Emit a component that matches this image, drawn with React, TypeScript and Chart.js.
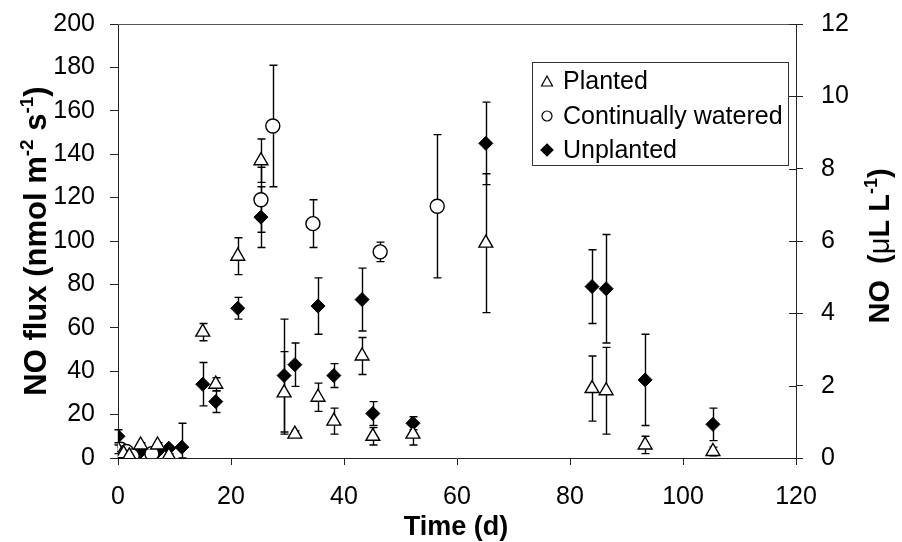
import React, { useEffect, useRef } from "react";
import { Chart, registerables } from "chart.js";

Chart.register(...registerables);

// ---------- data ----------
const plantedDays = [0, 0.5, 1, 2, 4, 7, 9, 15, 17.3, 21.2, 25.3, 29.4, 31.3, 35.4, 38.2, 43.2, 45.1, 52.2, 65.1, 83.9, 86.4, 93.3, 105.3];
const plantedFlux = [4, 1, 2, 1, 6, 6, 1, 58, 34, 93, 137, 30, 11, 28, 17, 47, 10, 11, 99, 32, 31, 6, 3];
const plantedErr = [2, 1, 1, 1, 1, 1, 1, 4, 3, 8.5, 10, 19, 1.5, 6.5, 6, 8.5, 4, 5, 32, 15, 20, 4, 2];

const wateredDays = [0.5, 1.5, 2.5, 6, 25.3, 27.4, 34.5, 46.4, 56.5];
const wateredFlux = [4, 3, 1, 2, 119, 153, 108, 95, 116];
const wateredErr = [1, 1, 1, 1, 15, 28, 11, 4.5, 33];

const unplantedDays = [0, 0.5, 1, 2, 4, 7, 9, 11.3, 15, 17.3, 21.2, 25.3, 29.4, 31.3, 35.4, 38.2, 43.2, 45.1, 52.2, 65.1, 83.9, 86.4, 93.3, 105.3];
const unplantedFlux = [10, 2, 3, 1, 3, 3, 4.5, 5, 34, 26, 69, 111, 38, 43, 70, 38, 73, 20.5, 16, 145, 79, 78, 36, 15.5];
const unplantedErr = [3, 1, 1, 1, 1, 1, 1, 11, 10, 5, 5, 14, 26, 10, 13, 5.5, 14.5, 5.5, 3, 19, 17, 25, 21, 7.5];

const xTicksMax = 120;
const leftMax = 200;
const rightMax = 12;

const seriesNames = ["Planted", "Continually watered", "Unplanted"];

const FONT = '"Liberation Sans", Arial, Helvetica, sans-serif';

function pts(days: number[], flux: number[], err: number[]) {
  return days.map((d, i) => ({ x: d, y: flux[i], e: err[i] }));
}

// ---------- plugins ----------
const errorBarsPlugin = {
  id: "errorBars",
  beforeDatasetsDraw(chart: any) {
    const { ctx } = chart;
    const x = chart.scales.x;
    const y = chart.scales.y;
    ctx.save();
    ctx.strokeStyle = "#000";
    ctx.lineWidth = 1.4;
    chart.data.datasets.forEach((ds: any) => {
      ds.data.forEach((p: any) => {
        if (!p.e) return;
        const px = Math.round(x.getPixelForValue(p.x)) + 0.5;
        const top = y.getPixelForValue(p.y + p.e);
        const bot = y.getPixelForValue(Math.max(0, p.y - p.e));
        ctx.beginPath();
        ctx.moveTo(px, top);
        ctx.lineTo(px, bot);
        ctx.moveTo(px - 4, top);
        ctx.lineTo(px + 4, top);
        ctx.moveTo(px - 4, bot);
        ctx.lineTo(px + 4, bot);
        ctx.stroke();
      });
    });
    ctx.restore();
  },
};

function drawRich(ctx: CanvasRenderingContext2D, parts: { t: string; sup?: boolean; normal?: boolean }[], size: number) {
  const fontFor = (p: any) => `${p.normal ? "normal" : "bold"} ${p.sup ? Math.round(size * 0.62) : size}px ${FONT}`;
  let total = 0;
  const widths = parts.map((p) => {
    ctx.font = fontFor(p);
    const w = ctx.measureText(p.t).width;
    total += w;
    return w;
  });
  let cx = -total / 2;
  ctx.textAlign = "left";
  ctx.textBaseline = "alphabetic";
  parts.forEach((p, i) => {
    ctx.font = fontFor(p);
    ctx.fillText(p.t, cx, p.sup ? -size * 0.42 : 0);
    cx += widths[i];
  });
}

const decorPlugin = {
  id: "decor",
  afterDraw(chart: any) {
    const { ctx, chartArea } = chart;
    ctx.save();
    // top frame line
    ctx.strokeStyle = "#555";
    ctx.lineWidth = 1;
    ctx.beginPath();
    ctx.moveTo(chartArea.left, chartArea.top + 0.5);
    ctx.lineTo(chartArea.right, chartArea.top + 0.5);
    ctx.stroke();
    // inner part of right axis ticks
    const y1 = chart.scales.y1;
    ctx.strokeStyle = "#222";
    y1.ticks.forEach((t: any) => {
      const py = Math.round(y1.getPixelForValue(t.value)) + 0.5;
      ctx.beginPath();
      ctx.moveTo(chartArea.right - 7, py);
      ctx.lineTo(chartArea.right, py);
      ctx.stroke();
    });

    ctx.fillStyle = "#000";
    // x title
    ctx.save();
    ctx.translate(456, 535);
    drawRich(ctx, [{ t: "Time (d)" }], 27);
    ctx.restore();
    // left title
    ctx.save();
    ctx.translate(46, 241);
    ctx.rotate(-Math.PI / 2);
    drawRich(ctx, [{ t: "NO flux (nmol m" }, { t: "-2", sup: true }, { t: " s" }, { t: "-1", sup: true }, { t: ")" }], 31);
    ctx.restore();
    // right title
    ctx.save();
    ctx.translate(889, 246);
    ctx.rotate(-Math.PI / 2);
    drawRich(ctx, [{ t: "NO  (" }, { t: "\u03BC", normal: true }, { t: "L L" }, { t: "-1", sup: true }, { t: ")" }], 29);
    ctx.restore();

    // legend
    const lx = 532, ly = 62, lw = 256, lh = 103;
    ctx.fillStyle = "#fff";
    ctx.fillRect(lx, ly, lw, lh);
    ctx.strokeStyle = "#333";
    ctx.lineWidth = 1;
    ctx.strokeRect(lx + 0.5, ly + 0.5, lw, lh);
    const rows = [82, 116, 150];
    const baselines = [89, 124, 158];
    ctx.font = `25px ${FONT}`;
    ctx.textAlign = "left";
    ctx.textBaseline = "alphabetic";
    seriesNames.forEach((name, i) => {
      const mx = 547, my = rows[i];
      ctx.lineWidth = 1.2;
      ctx.strokeStyle = "#000";
      ctx.fillStyle = i === 2 ? "#000" : "#fff";
      ctx.beginPath();
      if (i === 0) {
        ctx.moveTo(mx, my - 6);
        ctx.lineTo(mx + 5.5, my + 4);
        ctx.lineTo(mx - 5.5, my + 4);
        ctx.closePath();
      } else if (i === 1) {
        ctx.arc(mx, my, 5, 0, Math.PI * 2);
      } else {
        ctx.moveTo(mx, my - 6);
        ctx.lineTo(mx + 6, my);
        ctx.lineTo(mx, my + 6);
        ctx.lineTo(mx - 6, my);
        ctx.closePath();
      }
      ctx.fill();
      ctx.stroke();
      ctx.fillStyle = "#000";
      ctx.fillText(name, 563, baselines[i]);
    });
    ctx.restore();
  },
};

export default function App() {
  const ref = useRef<HTMLCanvasElement | null>(null);

  useEffect(() => {
    document.body.style.margin = "0";
    const canvas = ref.current;
    if (!canvas) return;
    const tickFont = { family: FONT, size: 25 };
    const zeroPad = (s: any) => {
      s.paddingTop = 0;
      s.paddingBottom = 0;
      s.paddingLeft = 0;
      s.paddingRight = 0;
    };
    const chart = new Chart(canvas, {
      type: "scatter",
      data: {
        datasets: [
          {
            label: seriesNames[0],
            data: pts(plantedDays, plantedFlux, plantedErr),
            pointStyle: "triangle",
            radius: 8,
            borderColor: "#000",
            backgroundColor: "#fff",
            borderWidth: 1.4,
            yAxisID: "y",
          },
          {
            label: seriesNames[1],
            data: pts(wateredDays, wateredFlux, wateredErr),
            pointStyle: "circle",
            radius: 7,
            borderColor: "#000",
            backgroundColor: "#fff",
            borderWidth: 1.4,
            yAxisID: "y",
          },
          {
            label: seriesNames[2],
            data: pts(unplantedDays, unplantedFlux, unplantedErr),
            pointStyle: "rectRot",
            radius: 7,
            borderColor: "#000",
            backgroundColor: "#000",
            borderWidth: 1,
            yAxisID: "y",
          },
        ],
      } as any,
      options: {
        animation: false,
        responsive: false,
        layout: { padding: { top: 24, left: 0, right: 0, bottom: 0 } },
        plugins: { legend: { display: false }, tooltip: { enabled: false } },
        scales: {
          x: {
            type: "linear",
            min: 0,
            max: xTicksMax,
            ticks: { stepSize: 20, font: tickFont, color: "#000", padding: 17, maxRotation: 0 },
            grid: { display: true, drawOnChartArea: false, drawTicks: true, tickLength: 7, color: "#222" },
            border: { display: true, color: "#222", width: 1 },
            afterFit: (s: any) => { s.height = 84; zeroPad(s); },
          },
          y: {
            type: "linear",
            position: "left",
            min: 0,
            max: leftMax,
            ticks: { stepSize: 20, font: tickFont, color: "#000", padding: 15 },
            grid: { display: true, drawOnChartArea: false, drawTicks: true, tickLength: 8, color: "#222" },
            border: { display: true, color: "#222", width: 1 },
            afterFit: (s: any) => { s.width = 118; zeroPad(s); },
          },
          y1: {
            type: "linear",
            position: "right",
            min: 0,
            max: rightMax,
            ticks: { stepSize: 2, font: tickFont, color: "#000", padding: 18 },
            grid: { display: true, drawOnChartArea: false, drawTicks: true, tickLength: 7, color: "#222" },
            border: { display: true, color: "#222", width: 1 },
            afterFit: (s: any) => { s.width = 106; zeroPad(s); },
          },
        },
      } as any,
      plugins: [errorBarsPlugin, decorPlugin],
    });
    return () => chart.destroy();
  }, []);

  return (
    <div style={{ width: 902, height: 542, background: "#fff" }}>
      <canvas ref={ref} width={902} height={542} style={{ display: "block" }} />
    </div>
  );
}
